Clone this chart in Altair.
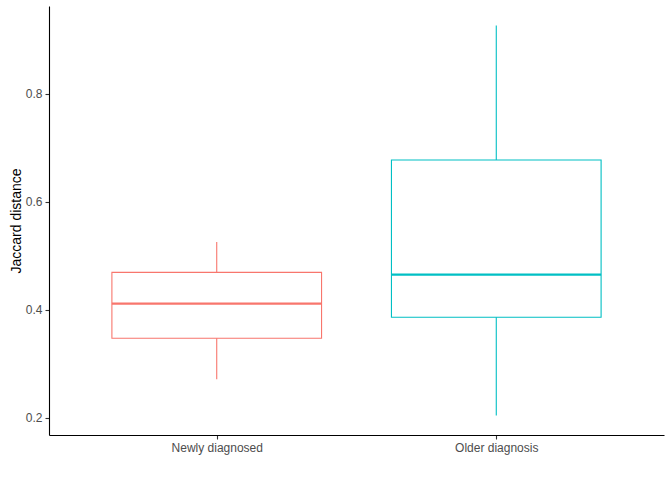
import altair as alt
import pandas as pd

categories = ["Newly diagnosed", "Older diagnosis"]
positions = [1, 2]
lower_whisker = [0.271, 0.204]
q1 = [0.347, 0.386]
median = [0.411, 0.465]
q3 = [0.469, 0.677]
upper_whisker = [0.525, 0.926]
colors = ["#F8766D", "#00BFC4"]

half = 0.375
df = pd.DataFrame({
    "group": categories,
    "pos": positions,
    "left": [p - half for p in positions],
    "right": [p + half for p in positions],
    "lo": lower_whisker,
    "q1": q1,
    "med": median,
    "q3": q3,
    "hi": upper_whisker,
})

xscale = alt.Scale(domain=[0.4, 2.6], nice=False, zero=False)
yscale = alt.Scale(domain=[0.168, 0.962], nice=False, zero=False)
color = alt.Color("group:N", scale=alt.Scale(domain=categories, range=colors), legend=None)

xaxis = alt.Axis(values=positions, title=None, grid=False,
                 labelExpr="datum.value == 1 ? 'Newly diagnosed' : 'Older diagnosis'")
yaxis = alt.Axis(values=[0.2, 0.4, 0.6, 0.8], format=".1f", title="Jaccard distance", grid=False)

base = alt.Chart(df)

whisk_up = base.mark_rule(strokeWidth=1.1).encode(
    x=alt.X("pos:Q", scale=xscale, axis=xaxis),
    y=alt.Y("q3:Q", scale=yscale, axis=yaxis),
    y2="hi:Q",
    color=color,
)
whisk_dn = base.mark_rule(strokeWidth=1.1).encode(
    x=alt.X("pos:Q", scale=xscale),
    y=alt.Y("lo:Q", scale=yscale),
    y2="q1:Q",
    color=color,
)
box = base.mark_rect(fill="white", fillOpacity=0, strokeWidth=1.1).encode(
    x=alt.X("left:Q", scale=xscale),
    x2="right:Q",
    y=alt.Y("q1:Q", scale=yscale),
    y2="q3:Q",
    stroke=alt.Stroke("group:N", scale=alt.Scale(domain=categories, range=colors), legend=None),
)
med = base.mark_rule(strokeWidth=2.2).encode(
    x=alt.X("left:Q", scale=xscale),
    x2="right:Q",
    y=alt.Y("med:Q", scale=yscale),
    color=color,
)

chart = alt.layer(whisk_up, whisk_dn, box, med).properties(
    width=615, height=429,
    autosize=alt.AutoSizeParams(type="none"),
    padding={"left": 49, "top": 6, "right": 8, "bottom": 45},
).configure_view(stroke=None).configure_axis(
    domainColor="black", domainWidth=1.1,
    tickColor="#333333", tickSize=4, tickWidth=1.1,
    labelColor="#4D4D4D", labelFont="Liberation Sans", labelFontSize=12,
    labelPadding=3,
    titleFont="Liberation Sans", titleFontSize=14, titleFontWeight="normal", titleColor="black",
).configure_axisY(titlePadding=2)

chart.save("out.html", embed_options={"renderer": "svg", "actions": False})
